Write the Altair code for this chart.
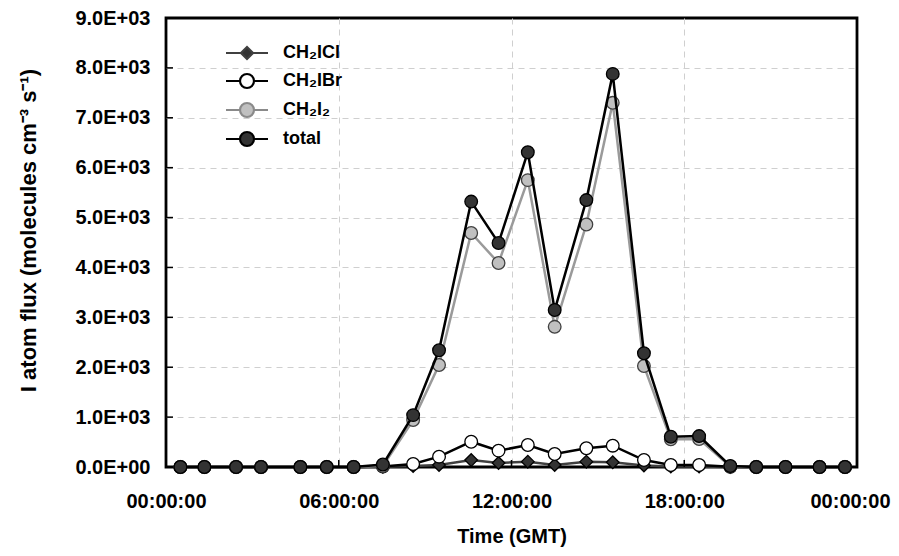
import altair as alt
import pandas as pd

# ---- data ----
times = ["00:30", "01:20", "02:26", "03:18", "04:40", "05:35", "06:31", "07:32",
         "08:35", "09:29", "10:36", "11:33", "12:34", "13:30", "14:36", "15:31",
         "16:36", "17:32", "18:31", "19:36", "20:30", "21:31", "22:42", "23:35"]
ch2icl = [0, 0, 0, 0, 0, 0, 0, 5, 20, 40, 140, 80, 107, 40, 107, 94, 30, 10, 10, 0, 0, 0, 0, 0]
ch2ibr = [0, 0, 0, 0, 0, 0, 0, 10, 60, 207, 507, 327, 440, 260, 375, 427, 140, 40, 40, 5, 0, 0, 0, 0]
ch2i2 = [0, 0, 0, 0, 0, 0, 0, 20, 940, 2045, 4690, 4090, 5750, 2810, 4860, 7300, 2025, 555, 560, 10, 0, 0, 0, 0]
total = [0, 0, 0, 0, 0, 0, 0, 50, 1040, 2340, 5320, 4490, 6310, 3146, 5350, 7880, 2280, 607, 620, 20, 0, 0, 0, 0]

series_names = ["CH₂ICl", "CH₂IBr", "CH₂I₂", "total"]
x_ticks = [0, 6, 12, 18, 24]
y_ticks = [0, 1000, 2000, 3000, 4000, 5000, 6000, 7000, 8000, 9000]

# ---- styles ----
line_colors = ["#404040", "#000000", "#9a9a9a", "#000000"]
fill_colors = ["#333333", "#ffffff", "#c0c0c0", "#333333"]
marker_strokes = ["#000000", "#000000", "#404040", "#000000"]
marker_shapes = ["diamond", "circle", "circle", "circle"]
legend_strokes = ["#404040", "#000000", "#8a8a8a", "#000000"]
circle_path = "M-3,0L-1,0M1,0L3,0M-1,0A1,1,0,1,0,1,0A1,1,0,1,0,-1,0Z"
diamond_path = "M-3,0L-0.86,0M0.86,0L3,0M-0.86,0L0,-0.86L0.86,0L0,0.86Z"
legend_shapes = [diamond_path, circle_path, circle_path, circle_path]

FONT = "Liberation Sans"
W, H = 691, 449

hours = [int(t[:2]) + int(t[3:]) / 60 for t in times]
rows = []
for name, vals in zip(series_names, [ch2icl, ch2ibr, ch2i2, total]):
    for h, v in zip(hours, vals):
        rows.append({"series": name, "hour": h, "value": v})
df = pd.DataFrame(rows)


def x_enc():
    return alt.X(
        "hour:Q",
        scale=alt.Scale(domain=[0, 24], nice=False, zero=False),
        axis=alt.Axis(
            values=x_ticks,
            labelExpr="datum.value == 24 ? '00:00:00' : (datum.value < 10 ? '0' : '') + datum.value + ':00:00'",
            title="Time (GMT)",
            grid=True, gridDash=[6, 5], gridColor="#cfcfcf", gridWidth=1,
            gridOpacity={"condition": {"test": "datum.value == 0 || datum.value == 24", "value": 0}, "value": 1},
            ticks=False, domain=False,
            labelFont=FONT, labelFontSize=20, labelFontWeight="bold", labelColor="black",
            labelPadding=24, labelFlush=False,
            labelOffset={"condition": {"test": "datum.value == 24", "value": -7}, "value": 0},
            titleFont=FONT, titleFontSize=20, titleFontWeight="bold", titleColor="black",
            titlePadding=15,
        ),
    )


def y_enc():
    return alt.Y(
        "value:Q",
        scale=alt.Scale(domain=[0, 9000], nice=False),
        axis=alt.Axis(
            values=y_ticks,
            labelExpr="datum.value == 0 ? '0.0E+00' : format(datum.value / 1000, '.1f') + 'E+03'",
            title="I atom flux (molecules cm⁻³ s⁻¹)",
            grid=True, gridDash=[6, 5], gridColor="#cfcfcf", gridWidth=1,
            gridOpacity={"condition": {"test": "datum.value == 0 || datum.value == 9000", "value": 0}, "value": 1},
            ticks=False, domain=False,
            labelFont=FONT, labelFontSize=20, labelFontWeight="bold", labelColor="black",
            labelPadding=16, labelFlush=False,
            titleFont=FONT, titleFontSize=22, titleFontWeight="bold", titleColor="black",
            titleX=-138, titleY=212, titleBaseline="middle", titleAlign="center", titleAngle=270,
        ),
    )


layers = []
for i, name in enumerate(series_names):
    sub = alt.Chart(df).transform_filter(alt.datum.series == name)
    layers.append(
        sub.mark_line(color=line_colors[i], strokeWidth=2.5).encode(x=x_enc(), y=y_enc())
    )
    layers.append(
        sub.mark_point(
            shape=marker_shapes[i], filled=True, fill=fill_colors[i],
            stroke=marker_strokes[i], strokeWidth=1.3, size=160, opacity=1,
        ).encode(x=x_enc(), y=y_enc())
    )

# inward tick marks
ytick_layer = alt.Chart(pd.DataFrame({"value": y_ticks})).mark_rule(
    color="black", strokeWidth=1.5
).encode(y=y_enc(), x=alt.value(0), x2=alt.value(7))
xtick_layer = alt.Chart(pd.DataFrame({"hour": x_ticks})).mark_rule(
    color="black", strokeWidth=1.5
).encode(x=x_enc(), y=alt.value(H), y2=alt.value(H - 7))

# legend-only layer (no marks drawn)
leg = alt.Legend(
    orient="none", legendX=59, legendY=26, title=None,
    labelFont=FONT, labelFontSize=18, labelFontWeight="bold", labelColor="black",
    symbolSize=196, symbolStrokeWidth=2.2, symbolOffset=13, labelOffset=27,
    rowPadding=5, padding=0,
)
legend_layer = alt.Chart(df).transform_filter("false").mark_point(
    filled=True, opacity=1
).encode(
    shape=alt.Shape("series:N", scale=alt.Scale(domain=series_names, range=legend_shapes), legend=leg),
    fill=alt.Fill("series:N", scale=alt.Scale(domain=series_names, range=fill_colors), legend=leg),
    stroke=alt.Stroke("series:N", scale=alt.Scale(domain=series_names, range=legend_strokes), legend=leg),
)

chart = alt.layer(*layers, ytick_layer, xtick_layer, legend_layer).properties(
    width=W, height=H,
    autosize=alt.AutoSizeParams(type="none"),
    padding={"left": 158, "top": 10, "right": 34, "bottom": 80},
).configure(
    font=FONT,
    view=alt.ViewConfig(stroke="black", strokeWidth=2.8),
)

chart.save("out.html", embed_options={"renderer": "svg", "actions": False})
